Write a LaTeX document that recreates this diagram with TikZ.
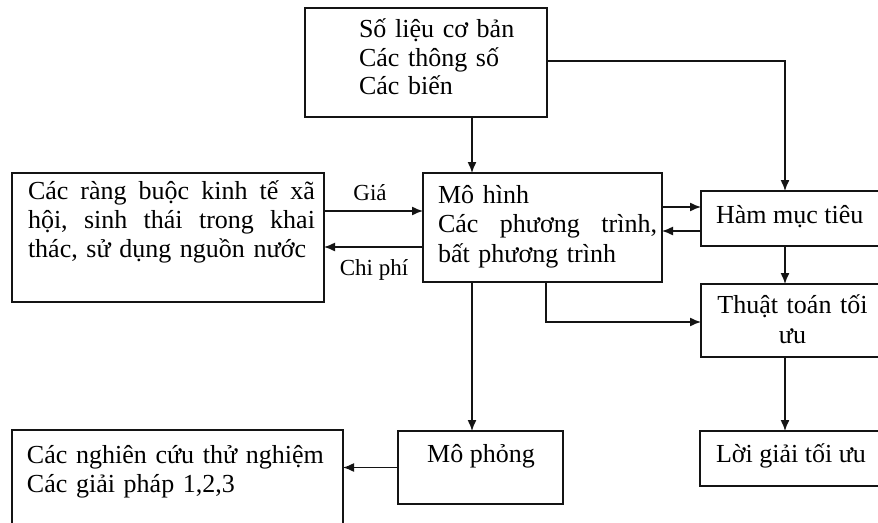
\documentclass[tikz,border=0pt]{standalone}
\usepackage{fontspec}
\setmainfont{Liberation Serif}
\usetikzlibrary{arrows.meta,calc}
\newcommand\myhi{\rule{0pt}{25pt}}
\begin{document}
\begin{tikzpicture}[x=1pt,y=-1pt,
  box/.style={draw=black!92, line width=1.5pt, inner sep=0pt, outer sep=0pt, rectangle},
  txt/.style={inner sep=0pt, outer sep=0pt, font=\fontsize{26}{29}\selectfont, align=left},
  lbl/.style={inner sep=0pt, font=\fontsize{23}{26}\selectfont},
  arr/.style={draw=black!92, line width=1.4pt, -{Latex[length=11pt,width=9pt]}},
  ln/.style={draw=black!92, line width=1.4pt}]
\useasboundingbox (0,0) rectangle (878,522);
\clip (0,0) rectangle (878,522);
\fill[white] (0,0) rectangle (878,522);

% boxes
\node[box, minimum width=242pt, minimum height=109pt] (top) at (426,62.5) {};
\node[box, minimum width=312pt, minimum height=129pt] (cons) at (168,237.5) {};
\node[box, minimum width=239pt, minimum height=109pt] (model) at (542.5,227.5) {};
\node[box, minimum width=189pt, minimum height=55pt] (ham) at (795.5,218.5) {};
\node[box, minimum width=189pt, minimum height=73pt] (thuat) at (795.5,320.5) {};
\node[box, minimum width=190pt, minimum height=55pt] (loi) at (795,458.5) {};
\node[box, minimum width=165pt, minimum height=73pt] (mophong) at (480.5,467.5) {};
\node[box, minimum width=331pt, minimum height=110pt] (nghien) at (177.5,485) {};

% texts
\node[txt, text width=200pt, anchor=north west, font=\fontsize{26}{28.5}\selectfont] (toptxt) at (359,12.5)
  {\myhi Số liệu cơ bản\\Các thông số\\Các biến};
\node[txt, text width=300pt, anchor=north west] (constxt) at (28,174)
  {\myhi\makebox[287pt]{Các\hfill ràng\hfill buộc\hfill kinh\hfill tế\hfill xã}\\\makebox[287pt]{hội,\hfill sinh\hfill thái\hfill trong\hfill khai}\\thác, sử dụng nguồn nước};
\node[txt, text width=230pt, anchor=north west, font=\fontsize{26}{29.5}\selectfont] (modeltxt) at (438,178)
  {\myhi Mô hình\\\makebox[219pt]{Các\hfill phương\hfill trình,}\\bất phương trình};
\node[txt, anchor=base west] (hamtxt) at (716,223) {Hàm mục tiêu};
\node[txt, text width=170pt, align=center, anchor=north, font=\fontsize{26}{30}\selectfont] (thuattxt) at (792.5,288)
  {\myhi Thuật toán tối\\ưu};
\node[txt, anchor=base west] (loitxt) at (716,462) {Lời giải tối ưu};
\node[txt, anchor=base] (mophongtxt) at (481,462) {Mô phỏng};
\node[txt, text width=320pt, anchor=north west] (nghientxt) at (27,438)
  {\myhi Các nghiên cứu thử nghiệm\\Các giải pháp 1,2,3};

\node[lbl, anchor=base] (gia) at (370,200) {Giá};
\node[lbl, anchor=base] (chiphi) at (374,275) {Chi phí};

% connectors
\draw[arr] ([xshift=46pt]top.south) -- ([xshift=-70.5pt]model.north);
\draw[arr] ([yshift=1.5pt]top.east) -| ([xshift=-10.5pt]ham.north);
\draw[arr] ([yshift=26.5pt]cons.east) -- ([yshift=16.5pt]model.west);
\draw[arr] ([yshift=-19.5pt]model.west) -- ([yshift=-9.5pt]cons.east);
\draw[arr] ([yshift=20.5pt]model.east) -- ([yshift=11.5pt]ham.west);
\draw[arr] ([yshift=-12.5pt]ham.west) -- ([yshift=-3.5pt]model.east);
\draw[arr] ([xshift=-10.5pt]ham.south) -- ([xshift=-10.5pt]thuat.north);
\draw[arr] ([xshift=3.5pt]model.south) |- ([yshift=-1.5pt]thuat.west);
\draw[arr] ([xshift=-10.5pt]thuat.south) -- ([xshift=-10pt]loi.north);
\draw[arr] ([xshift=-70.5pt]model.south) -- ([xshift=-8.5pt]mophong.north);
\draw[arr] (mophong.west) -- ([yshift=17.5pt]nghien.east);
\end{tikzpicture}
\end{document}
